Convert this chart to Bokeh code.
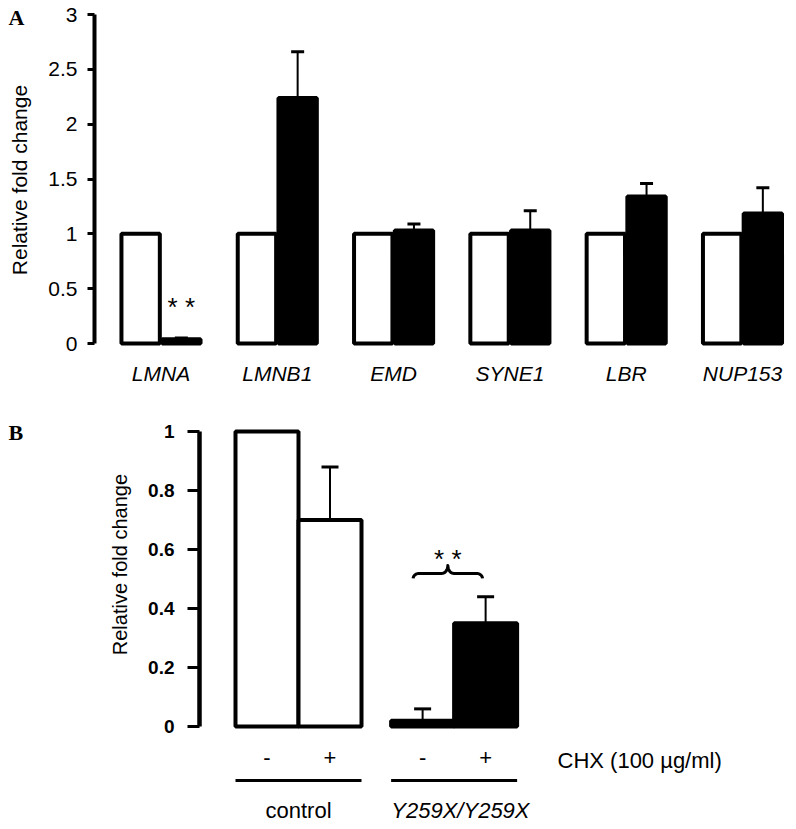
import numpy as np
from bokeh.plotting import figure
from bokeh.models import (ColumnDataSource, LinearAxis, FixedTicker, NumeralTickFormatter,
                          Range1d, Whisker, TeeHead)
from bokeh.layouts import column
from bokeh.core.properties import value
from bokeh.embed import file_html
from bokeh.resources import INLINE

# ---------------- data: panel A ----------------
genes = ["LMNA", "LMNB1", "EMD", "SYNE1", "LBR", "NUP153"]
control_a = [1.0, 1.0, 1.0, 1.0, 1.0, 1.0]
mutant_a = [0.04, 2.24, 1.03, 1.03, 1.34, 1.185]
mutant_err_a = [0.01, 0.42, 0.06, 0.18, 0.12, 0.235]
ticks_a = [0, 0.5, 1, 1.5, 2, 2.5, 3]

# ---------------- data: panel B ----------------
chx_b = ["-", "+", "-", "+"]
groups_b = ["control", "control", "Y259X/Y259X", "Y259X/Y259X"]
values_b = [1.0, 0.70, 0.02, 0.35]
err_b = [0.0, 0.18, 0.04, 0.09]
colors_b = ["white", "white", "black", "black"]
ticks_b = [0, 0.2, 0.4, 0.6, 0.8, 1]

FONT = "Liberation Sans"
SERIF = "Liberation Serif"

# ================= Panel A =================
BAR_W_A = 0.33
OFF_A = 0.175
xa = np.arange(len(genes), dtype=float)

pa = figure(width=792, height=395, x_range=Range1d(-1.380, 5.430),
            y_range=Range1d(-0.474, 3.128), output_backend="svg",
            toolbar_location=None, x_axis_location=None, y_axis_location=None,
            min_border=0)
pa.outline_line_color = None
pa.grid.visible = False

ya = LinearAxis(fixed_location=-0.572, bounds=(0, 3),
                ticker=FixedTicker(ticks=ticks_a),
                formatter=NumeralTickFormatter(format="0.[0]"))
ya.axis_line_width = 4
ya.axis_line_color = "black"
ya.major_tick_line_width = 3
ya.major_tick_out = 7
ya.major_tick_in = 0
ya.minor_tick_out = 0
ya.minor_tick_in = 0
ya.major_label_standoff = 10
ya.major_label_text_font = FONT
ya.major_label_text_font_size = "21px"
ya.major_label_text_color = "black"
pa.add_layout(ya, "left")

src_a = ColumnDataSource(dict(
    xw=xa - OFF_A, xb=xa + OFF_A, ctrl=control_a, mut=mutant_a,
    up=np.array(mutant_a) + np.array(mutant_err_a)))
pa.vbar(x="xw", top="ctrl", bottom=0, width=BAR_W_A, source=src_a,
        fill_color="white", line_color="black", line_width=4)
pa.vbar(x="xb", top="mut", bottom=0, width=BAR_W_A, source=src_a,
        fill_color="black", line_color="black", line_width=4)
wa = Whisker(source=src_a, base="xb", lower="mut", upper="up", dimension="height",
             line_width=2, line_color="black",
             upper_head=TeeHead(size=13, line_width=3, line_color="black"),
             lower_head=None)
pa.add_layout(wa)

pa.text(x=xa, y=[-0.269] * len(genes), text=genes, text_font=value(FONT),
        text_font_size="21px", text_font_style="italic", text_align="center",
        text_baseline="middle", text_color="black")
pa.text(x=[xa[0] + OFF_A], y=[0.337], text=["* *"], text_font=value(FONT),
        text_font_size="26px", text_align="center", text_baseline="middle",
        text_color="black")
pa.text(x=[-1.2167], y=[1.491], text=["Relative fold change"], angle=np.pi / 2,
        text_font=value(FONT), text_font_size="21px", text_align="center",
        text_baseline="middle", text_color="black")
pa.text(x=[-1.311], y=[2.973], text=["A"], text_font=value(SERIF),
        text_font_size="22px", text_font_style="bold", text_align="left",
        text_baseline="middle", text_color="black")

# ================= Panel B =================
GAP_B = 0.47
uniq_groups = list(dict.fromkeys(groups_b))
gidx = np.array([uniq_groups.index(g) for g in groups_b])
xb = np.arange(len(values_b)) + GAP_B * gidx

pb = figure(width=792, height=432, x_range=Range1d(-4.230, 8.341),
            y_range=Range1d(-0.342, 1.122), output_backend="svg",
            toolbar_location=None, x_axis_location=None, y_axis_location=None,
            min_border=0)
pb.outline_line_color = None
pb.grid.visible = False

yb = LinearAxis(fixed_location=-1.071, bounds=(0, 1),
                ticker=FixedTicker(ticks=ticks_b),
                formatter=NumeralTickFormatter(format="0.[0]"))
yb.axis_line_width = 4.5
yb.axis_line_color = "black"
yb.major_tick_line_width = 3
yb.major_tick_out = 12
yb.major_tick_in = 0
yb.minor_tick_out = 0
yb.minor_tick_in = 0
yb.major_label_standoff = 13
yb.major_label_text_font = FONT
yb.major_label_text_font_size = "19px"
yb.major_label_text_font_style = "bold"
yb.major_label_text_color = "black"
pb.add_layout(yb, "left")

src_b = ColumnDataSource(dict(x=xb, top=values_b, color=colors_b))
pb.vbar(x="x", top="top", bottom=0, width=1.0, source=src_b,
        fill_color="color", line_color="black", line_width=4)

has_err = np.array(err_b) > 0
src_be = ColumnDataSource(dict(
    x=xb[has_err], lo=np.array(values_b)[has_err],
    up=(np.array(values_b) + np.array(err_b))[has_err]))
wb = Whisker(source=src_be, base="x", lower="lo", upper="up", dimension="height",
             line_width=2, line_color="black",
             upper_head=TeeHead(size=17, line_width=3, line_color="black"),
             lower_head=None)
pb.add_layout(wb)

# CHX +/- labels
pb.text(x=xb, y=[-0.105] * len(xb), text=chx_b, text_font=value(FONT),
        text_font_size="22px", text_align="center", text_baseline="middle",
        text_color="black")
pb.text(x=[4.611], y=[-0.115], text=["CHX (100 \u00b5g/ml)"], text_font=value(FONT),
        text_font_size="22px", text_align="left", text_baseline="middle",
        text_color="black")

# group underlines and labels
g_lo = [xb[gidx == g].min() - 0.5 for g in range(len(uniq_groups))]
g_hi = [xb[gidx == g].max() + 0.5 for g in range(len(uniq_groups))]
g_mid = [(a + b) / 2 for a, b in zip(g_lo, g_hi)]
pb.segment(x0=g_lo, x1=g_hi, y0=[-0.183] * 2, y1=[-0.183] * 2,
           line_color="black", line_width=3)
pb.text(x=[g_mid[0]], y=[-0.285], text=[uniq_groups[0]], text_font=value(FONT),
        text_font_size="22px", text_align="center", text_baseline="middle",
        text_color="black")
pb.text(x=[g_mid[1] + 0.1], y=[-0.285], text=[uniq_groups[1]], text_font=value(FONT),
        text_font_size="22px", text_font_style="italic", text_align="center",
        text_baseline="middle", text_color="black")

# significance brace between the two Y259X bars
PX_X = 1 / 63.0
PX_Y = 1 / 295.0
bx0 = xb[2] - 0.15
bx1 = xb[3] - 0.05
by = 0.519
w = (bx1 - bx0) / PX_X
half = w / 2
t = np.linspace(0, np.pi / 2, 12)
r, tip, peak = 6.0, 5.0, 8.0
seg1x = r * (1 - np.cos(t)); seg1y = -tip + tip * np.sin(t)
seg2x = half - r + r * np.sin(t); seg2y = peak * (1 - np.cos(t))
left_x = np.concatenate([seg1x, seg2x]); left_y = np.concatenate([seg1y, seg2y])
right_x = w - left_x[::-1]; right_y = left_y[::-1]
bxs = np.concatenate([left_x, right_x]) * PX_X + bx0
bys = np.concatenate([left_y, right_y]) * PX_Y + by
pb.line(x=bxs, y=bys, line_color="black", line_width=3, line_join="round")
pb.text(x=[(bx0 + bx1) / 2], y=[0.569], text=["* *"], text_font=value(FONT),
        text_font_size="26px", text_align="center", text_baseline="middle",
        text_color="black")

pb.text(x=[-2.341], y=[0.549], text=["Relative fold change"], angle=np.pi / 2,
        text_font=value(FONT), text_font_size="20px", text_align="center",
        text_baseline="middle", text_color="black")
pb.text(x=[-4.103], y=[0.997], text=["B"], text_font=value(SERIF),
        text_font_size="22px", text_font_style="bold", text_align="left",
        text_baseline="middle", text_color="black")

layout = column(pa, pb, spacing=0)
open("out.html", "w").write(file_html(layout, INLINE))
